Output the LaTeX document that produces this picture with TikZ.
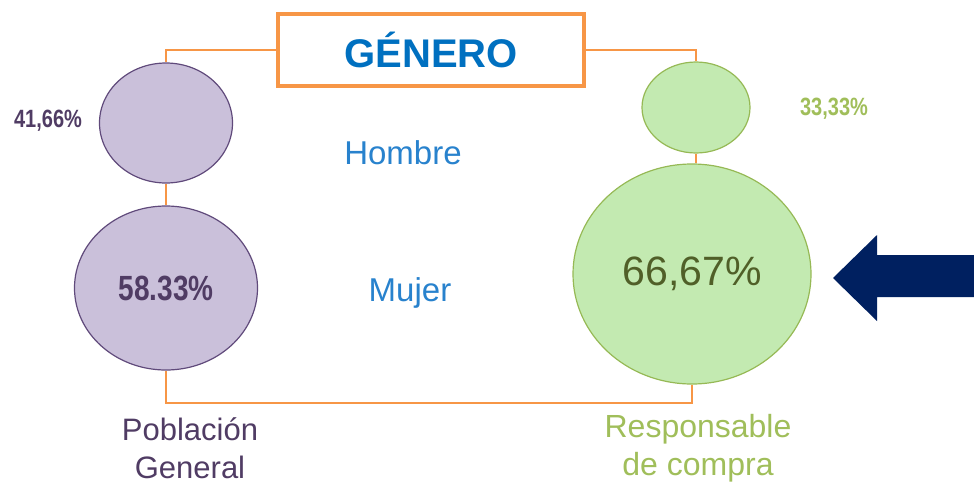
\documentclass[tikz,border=0pt]{standalone}
\usepackage{fontspec}
\setmainfont{Liberation Sans}
\newfontfamily\narrowb[FakeStretch=0.8]{Liberation Sans}
\usetikzlibrary{shapes.geometric}
\definecolor{orng}{RGB}{247,150,70}
\definecolor{ttlblue}{RGB}{0,112,192}
\definecolor{lblblue}{RGB}{40,130,205}
\definecolor{purfill}{RGB}{202,192,218}
\definecolor{purdraw}{RGB}{96,74,123}
\definecolor{purtext}{RGB}{80,60,100}
\definecolor{grnfill}{RGB}{195,234,177}
\definecolor{grndraw}{RGB}{150,185,85}
\definecolor{grntext}{RGB}{160,190,90}
\definecolor{grndark}{RGB}{80,95,40}
\definecolor{navy}{RGB}{0,32,96}
\tikzset{
  purell/.style={ellipse, draw=purdraw, line width=1.2pt, fill=purfill, inner sep=0pt},
  grnell/.style={ellipse, draw=grndraw, line width=1.2pt, fill=grnfill, inner sep=0pt},
  conn/.style={draw=orng, line width=1.5pt},
  fsz/.style={font=\fontsize{#1}{#1}\selectfont}
}
\begin{document}
\begin{tikzpicture}[x=1pt,y=-1pt]
\useasboundingbox (0,0) rectangle (974,485);
% title
\node[draw=orng, line width=3.5pt, minimum width=306, minimum height=72, inner sep=0pt] (title) at (431,50)
  {\fontsize{40}{40}\selectfont\bfseries\color{ttlblue}GÉNERO};
% ellipses
\node[purell, minimum width=133, minimum height=120] (pm) at (166,123) {};
\node[purell, minimum width=183, minimum height=164] (pw) at (166,288)
  {\narrowb\fontsize{35}{35}\selectfont\bfseries\color{purtext}58.33\%};
\node[grnell, minimum width=108, minimum height=91] (rm) at (696,107.5) {};
\node[grnell, minimum width=238, minimum height=220] (rw) at (692,274)
  {\fontsize{41}{41}\selectfont\color{grndark}66,67\%};
% connectors
\coordinate (bot) at (430,403);
\draw[conn] (title.west) -| (pm.north);
\draw[conn] (title.east) -| (rm.north);
\draw[conn] (pm.south) -- (pm.south |- pw.north);
\draw[conn] (rm.south) -- (rm.south |- rw.north);
\draw[conn] (pw.south) |- (bot) -| (rw.south);
% labels
\node[fsz=25, text=purtext] (p1) at (48,121) {\narrowb\bfseries 41,66\%};
\node[fsz=25, text=grntext] (p2) at (834,109) {\narrowb\bfseries 33,33\%};
\node[fsz=33, text=lblblue] (hom) at (403,153) {Hombre};
\node[fsz=33, text=lblblue] (muj) at (410,293) {Mujer};
\node[text=purtext, align=center, font=\fontsize{31}{38}\selectfont] (pob) at (190,448) {Población\\General};
\node[text=grntext, align=center, font=\fontsize{32}{38}\selectfont] (res) at (698,448) {Responsable\\de compra};
% arrow
\fill[navy] (833,278) -- (877,235) -- (877,255) -- (974,255) -- (974,297) -- (877,297) -- (877,321) -- cycle;
\end{tikzpicture}
\end{document}
